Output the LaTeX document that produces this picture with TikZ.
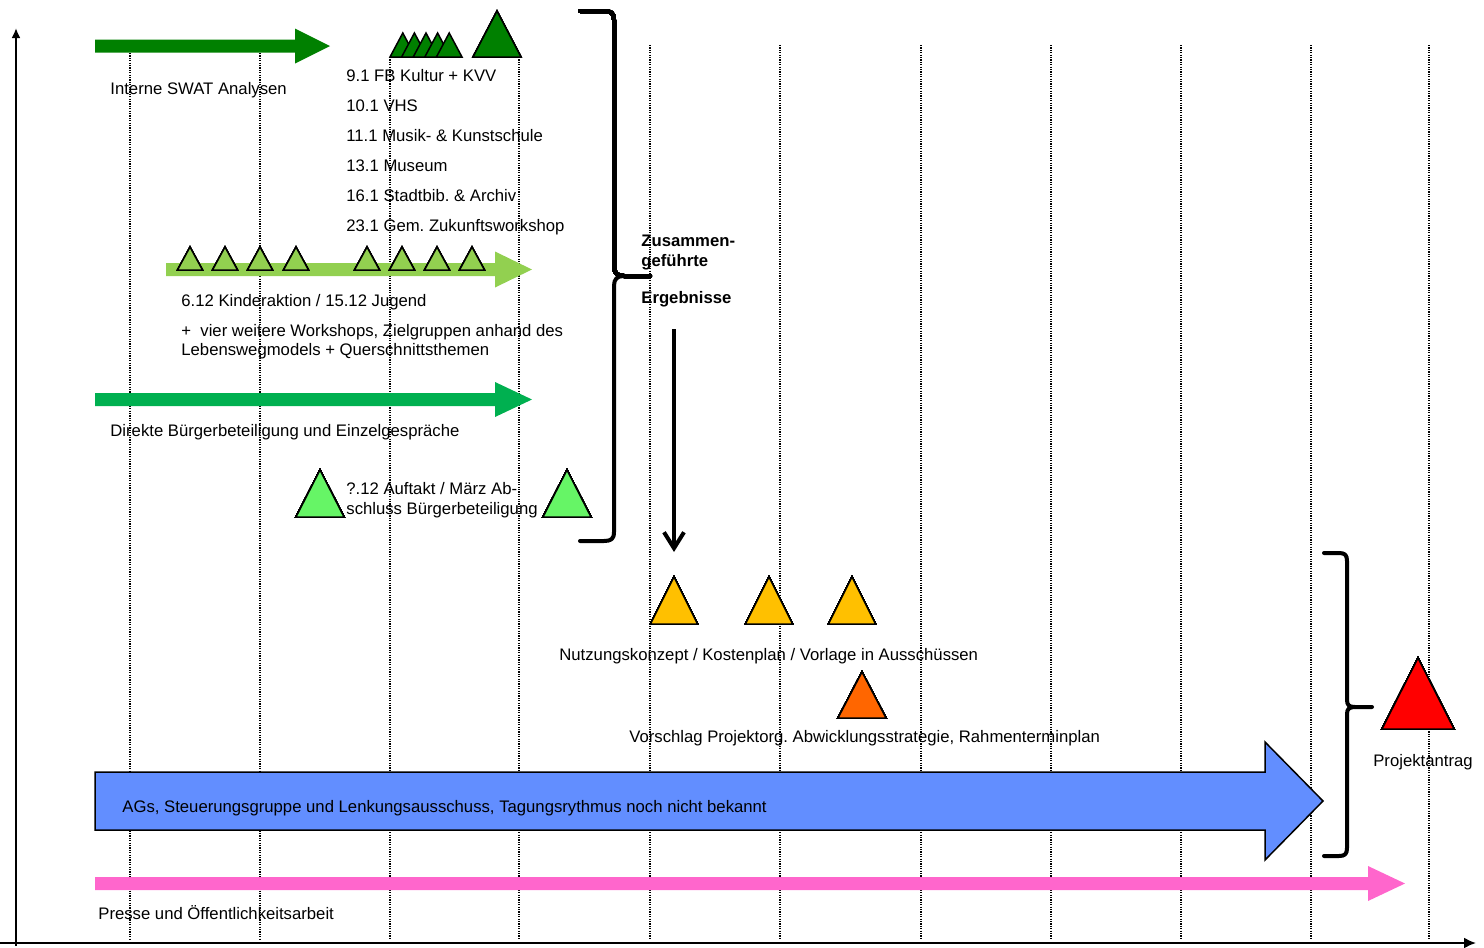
\documentclass[tikz,border=0pt]{standalone}
\usepackage{fontspec}
\setmainfont{Liberation Sans}
\usetikzlibrary{arrows.meta}
\frenchspacing
\definecolor{dgreen}{RGB}{0,128,0}
\definecolor{lgreen}{RGB}{146,208,80}
\definecolor{mgreen}{RGB}{0,176,80}
\definecolor{bgreen}{RGB}{102,245,102}
\definecolor{ayellow}{RGB}{255,192,0}
\definecolor{aorange}{RGB}{255,102,0}
\definecolor{ablue}{RGB}{98,142,255}
\definecolor{apink}{RGB}{255,102,204}
\newcommand\blockarrow[7]{%
  \path[#7] (#1,{#4-#5}) -- (#2,{#4-#5}) -- (#2,{#4-#6}) -- (#3,#4) -- (#2,{#4+#6}) -- (#2,{#4+#5}) -- (#1,{#4+#5}) -- cycle;}
\newcommand\tri[5]{%
  \draw[trishape,fill=#5] ({#1-#4},#3) -- (#1,#2) -- ({#1+#4},#3) -- cycle;}
\tikzset{
  lbl/.style={font=\fontsize{8.35}{10}\selectfont\frenchspacing, inner sep=0pt, anchor=base west, text=black},
  blbl/.style={lbl, font=\fontsize{8.35}{10}\selectfont\bfseries},
  trishape/.style={draw=black, line width=0.75pt, line join=miter},
  grid/.style={line width=0.7pt, dash pattern=on 0.6pt off 0.6pt},
  brace/.style={line width=2pt, line cap=round, line join=round},
}
\begin{document}
\begin{tikzpicture}[x=0.5pt,y=-0.5pt]
\useasboundingbox (0,0) rectangle (1484,948);
% grid lines
\foreach \gx/\gy in {130/53,260/53,390/57,519/57,650/45,780/45,921/45,1051/45,1181/45,1311/45,1429/45}
  \draw[grid] (\gx,\gy) -- (\gx,940);
% axes
\draw[line width=1pt, -{Latex[length=5pt,width=4.5pt]}] (16,946) -- (16,28);
\draw[line width=1pt, -{Latex[length=6pt,width=5.5pt]}] (0,943) -- (1476,943);
% block arrows
\blockarrow{95}{295}{330}{46}{6.5}{17.5}{fill=dgreen}
\blockarrow{166}{495}{532}{269.5}{6.5}{18}{fill=lgreen}
\blockarrow{95}{495}{532}{399.5}{6.5}{17.5}{fill=mgreen}
\blockarrow{95}{1265}{1323}{801}{29}{59}{fill=ablue,draw=black,line width=0.75pt}
\blockarrow{95}{1368}{1405}{883.5}{6.5}{17.5}{fill=apink}
% triangles
\foreach \k in {0,...,4} \tri{402.8+11.6*\k}{33}{57}{12.8}{dgreen}
\tri{497}{11}{57}{24}{dgreen}
\foreach \cx in {190,225,260,296,367,402,437,472} \tri{\cx}{247}{270}{12.5}{lgreen}
\tri{320}{470}{517}{24}{bgreen}
\tri{567}{470}{517}{24}{bgreen}
\tri{674}{577}{624}{23.5}{ayellow}
\tri{769}{577}{624}{23.5}{ayellow}
\tri{852}{577}{624}{23.5}{ayellow}
\tri{862}{672}{718}{24}{aorange}
\tri{1418}{658}{729}{36}{red}
% braces
\draw[brace] (580,11) -- (604,11) .. controls (611,11) and (614,13) .. (614,20) -- (614,266)
  .. controls (614,273) and (617,276) .. (624,276) -- (650,276);
\draw[brace] (624,276) .. controls (617,276) and (614,279) .. (614,286) -- (614,532)
  .. controls (614,539) and (611,541) .. (604,541) -- (580,541);
\draw[brace] (1324,553) -- (1339,553) .. controls (1345,553) and (1347,555) .. (1347,561) -- (1347,700)
  .. controls (1347,705) and (1349,707) .. (1355,707) -- (1372,707);
\draw[brace] (1355,707) .. controls (1349,707) and (1347,709) .. (1347,714) -- (1347,848)
  .. controls (1347,854) and (1345,856) .. (1339,856) -- (1324,856);
% down arrow
\coordinate (dA) at (674,329);
\coordinate (dB) at (674,552);
\draw[line width=2pt, -{Straight Barb[length=8pt,width=10pt]}] (dA) -- (dB);
% texts
\node[lbl] (t1) at (110,94) {Interne SWAT Analysen};
\node[lbl] (t2) at (346,81) {9.1 FB Kultur + KVV};
\node[lbl] (t3) at (346,111) {10.1 VHS};
\node[lbl] (t4) at (346,141) {11.1 Musik- \& Kunstschule};
\node[lbl] (t5) at (346,171) {13.1 Museum};
\node[lbl] (t6) at (346,201) {16.1 Stadtbib. \& Archiv};
\node[lbl] (t7) at (346,231) {23.1 Gem. Zukunftsworkshop};
\node[blbl] (z1) at (641,246) {Zusammen-};
\node[blbl] (z2) at (641,266) {geführte};
\node[blbl] (z3) at (641,303) {Ergebnisse};
\node[lbl] (t8) at (181,306) {6.12 Kinderaktion / 15.12 Jugend};
\node[lbl] (t9) at (181,336) {+\ \ vier weitere Workshops, Zielgruppen anhand des};
\node[lbl] (t10) at (181,355) {Lebenswegmodels + Querschnittsthemen};
\node[lbl] (t11) at (110,436) {Direkte Bürgerbeteiligung und Einzelgespräche};
\node[lbl] (t12) at (346,494) {?.12 Auftakt / März Ab-};
\node[lbl] (t13) at (346,514) {schluss Bürgerbeteiligung};
\node[lbl] (t14) at (559,660) {Nutzungskonzept / Kostenplan / Vorlage in Ausschüssen};
\node[lbl] (t15) at (629,742) {Vorschlag Projektorg. Abwicklungsstrategie, Rahmenterminplan};
\node[lbl] (t16) at (122,812) {AGs, Steuerungsgruppe und Lenkungsausschuss, Tagungsrythmus noch nicht bekannt};
\node[lbl, anchor=base] (t17) at (1423,766) {Projektantrag};
\node[lbl] (t18) at (98,919) {Presse und Öffentlichkeitsarbeit};
\end{tikzpicture}
\end{document}
